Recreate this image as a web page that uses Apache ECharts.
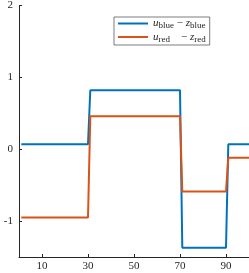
<!DOCTYPE html>
<html><head><meta charset="utf-8">
<script src="https://cdn.jsdelivr.net/npm/echarts@6/dist/echarts.min.js"></script>
<style>html,body{margin:0;padding:0;background:#fff}#c{width:249px;height:273px}</style>
</head><body><div id="c"></div>
<script>
const xs = [1, 30, 31, 70, 71, 90, 91, 100];
const blueVals = [0.07, 0.07, 0.82, 0.82, -1.37, -1.37, 0.07, 0.07];
const redVals = [-0.95, -0.95, 0.46, 0.46, -0.59, -0.59, -0.12, -0.12];
const xTicks = [10, 30, 50, 70, 90];
const yTicks = [-1, 0, 1, 2];
const seriesNames = ['blue', 'red'];

const font = 'Liberation Serif';
const chart = echarts.init(document.getElementById('c'));
const axisCol = '#262626';
chart.setOption({
  animation: false,
  grid: {left: 19, right: 0, top: 5, bottom: 16},
  xAxis: {
    type: 'value', min: 0, max: 100, interval: 10,
    axisLine: {show: true, onZero: false, lineStyle: {color: axisCol, width: 1}},
    axisTick: {show: true, inside: true, length: 3, lineStyle: {color: axisCol},
      customValues: xTicks},
    axisLabel: {customValues: xTicks, color: axisCol, fontFamily: font, fontSize: 11, margin: 4},
    splitLine: {show: false}
  },
  yAxis: {
    type: 'value', min: -1.5, max: 2, interval: 0.5,
    axisLine: {show: true, onZero: false, lineStyle: {color: axisCol, width: 1}},
    axisTick: {show: true, inside: true, length: 3, lineStyle: {color: axisCol},
      customValues: yTicks},
    axisLabel: {customValues: yTicks, color: axisCol, fontFamily: font, fontSize: 11, margin: 6},
    splitLine: {show: false}
  },
  legend: {
    orient: 'vertical', left: 114, top: 17,
    itemWidth: 30, itemHeight: 2, itemGap: 1, align: 'left',
    backgroundColor: '#fff', borderColor: axisCol, borderWidth: 0.6,
    padding: [1, 4, 1, 4],
    icon: 'rect',
    formatter: function (n) {
      return '{i|u}{s|' + n + '}' + (n === 'red' ? '    ' : ' ') + '{m|−} {i|z}{s|' + n + '}';
    },
    textStyle: {
      color: axisCol, fontFamily: font, fontSize: 11,
      rich: {
        i: {fontFamily: font, fontStyle: 'italic', fontSize: 11, color: axisCol},
        s: {fontFamily: font, fontSize: 9, color: axisCol, padding: [5, 0, 0, 0]},
        m: {fontFamily: font, fontSize: 11, color: axisCol}
      }
    },
    data: seriesNames
  },
  series: [
    {name: 'blue', type: 'line', data: xs.map((x, i) => [x, blueVals[i]]), showSymbol: false,
      lineStyle: {color: '#0072BD', width: 2}, itemStyle: {color: '#0072BD'}},
    {name: 'red', type: 'line', data: xs.map((x, i) => [x, redVals[i]]), showSymbol: false,
      lineStyle: {color: '#D95319', width: 2}, itemStyle: {color: '#D95319'}}
  ]
});
</script></body></html>
